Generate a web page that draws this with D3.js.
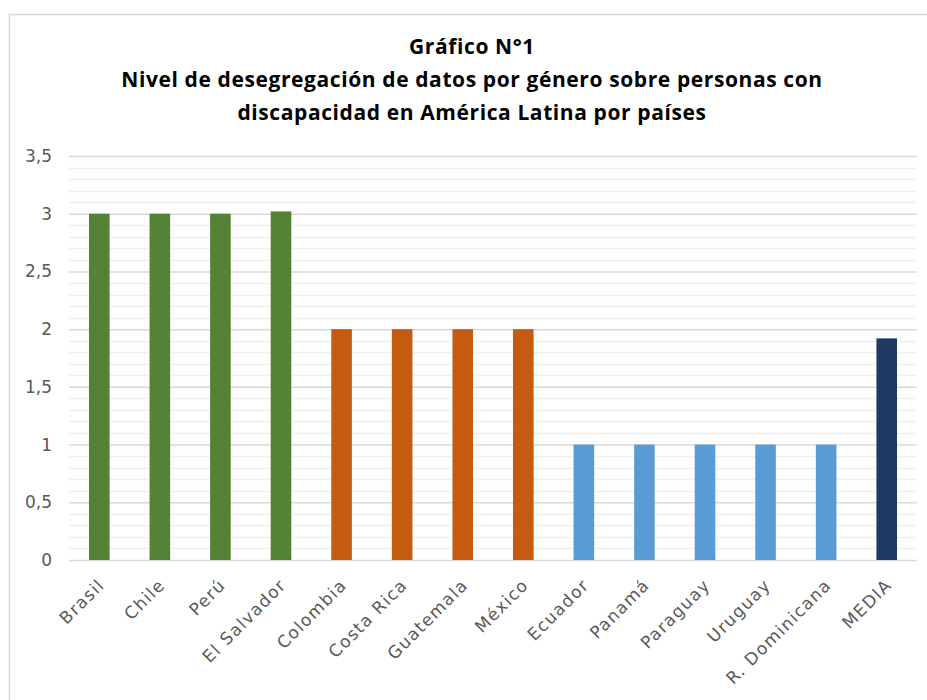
<!DOCTYPE html>
<html lang="es">
<head>
    <meta charset="UTF-8">
    <script src="https://d3js.org/d3.v7.min.js"></script>
    <title>Gráfico N°1</title>
    <style>
        body{ margin:0; background:#fff; }
        .tick-label{ font-family:"DejaVu Sans", sans-serif; font-size:17px; fill:#595959; }
        .x-label{ letter-spacing:1.3px; }
        .title{ font-family:"Open Sans", sans-serif; font-weight:bold; font-size:21px; letter-spacing:0.6px; fill:#000; }
    </style>
</head>
<body>
    <script>
        var categories = ["Brasil","Chile","Perú","El Salvador","Colombia","Costa Rica","Guatemala","México","Ecuador","Panamá","Paraguay","Uruguay","R. Dominicana","MEDIA"];
        var values = [3, 3, 3, 3.02, 2, 2, 2, 2, 1, 1, 1, 1, 1, 1.92];
        var groups = ["alto","alto","alto","alto","medio","medio","medio","medio","bajo","bajo","bajo","bajo","bajo","media"];
        var yTicks = [0, 0.5, 1, 1.5, 2, 2.5, 3, 3.5];
        var titleLines = ["Gráfico N°1", "Nivel de desegregación de datos por género sobre personas con", "discapacidad en América Latina por países"];

        var width = 927, height = 700;
        var plotLeft = 69, plotRight = 917, plotTop = 156, plotBottom = 560;

        var svg = d3.select("body").append("svg").attr("width", width).attr("height", height);

        // frame of the chart area (only top and left visible)
        svg.append("path").attr("d", "M9.5 " + height + " V14.5 H" + width)
            .style("fill", "none").style("stroke", "#d9d9d9").style("stroke-width", 1.5);

        var xScale = d3.scaleBand().domain(categories).range([plotLeft, plotRight]).paddingInner(0.66).paddingOuter(0.33);
        var yScale = d3.scaleLinear().domain([0, 3.5]).range([plotBottom, plotTop]);
        var color = d3.scaleOrdinal().domain(["alto","medio","bajo","media"]).range(["#548235","#c55a11","#5b9bd5","#203864"]);
        var fmt = d3.formatLocale({decimal: ",", thousands: ".", grouping: [3], currency: ["", "€"]}).format("~g");

        // minor gridlines every 0.1
        var minor = d3.range(1, 35).map(function(d){ return d / 10; }).filter(function(d){ return Math.round(d * 10) % 5 !== 0; });
        svg.append("g").selectAll("line").data(minor).enter().append("line")
            .attr("x1", plotLeft).attr("x2", plotRight)
            .attr("y1", function(d){ return Math.round(yScale(d)) + 0.5; })
            .attr("y2", function(d){ return Math.round(yScale(d)) + 0.5; })
            .style("stroke", "#f0f0f0").style("stroke-width", 1.5);

        // y axis with major gridlines
        var yAxis = d3.axisLeft(yScale).tickValues(yTicks).tickSize(-(plotRight - plotLeft)).tickPadding(17).tickFormat(fmt);
        var gy = svg.append("g").attr("transform", "translate(" + plotLeft + ",0)").call(yAxis);
        gy.select(".domain").remove();
        gy.selectAll(".tick line").style("stroke", "#d9d9d9").style("stroke-width", 1.5);
        gy.selectAll(".tick text").attr("class", "tick-label").attr("fill", null);

        // bars
        svg.append("g").selectAll("rect").data(categories).enter().append("rect")
            .attr("x", function(d){ return xScale(d); })
            .attr("width", xScale.bandwidth())
            .attr("y", function(d, i){ return yScale(values[i]); })
            .attr("height", function(d, i){ return plotBottom - yScale(values[i]); })
            .style("fill", function(d, i){ return color(groups[i]); });

        // x axis labels, rotated
        var xAxis = d3.axisBottom(xScale).tickSize(0).tickPadding(0);
        var gx = svg.append("g").attr("transform", "translate(0," + plotBottom + ")").call(xAxis);
        gx.select(".domain").remove();
        gx.selectAll(".tick text").attr("class", "tick-label x-label").attr("fill", null)
            .attr("text-anchor", "end")
            .attr("dy", "0.35em")
            .attr("transform", "translate(2,22) rotate(-45)");

        // title
        svg.append("g").selectAll("text").data(titleLines).enter().append("text")
            .attr("class", "title")
            .attr("x", 472)
            .attr("y", function(d, i){ return 54 + i * 33; })
            .attr("text-anchor", "middle")
            .text(function(d){ return d; });
    </script>
</body>
</html>
